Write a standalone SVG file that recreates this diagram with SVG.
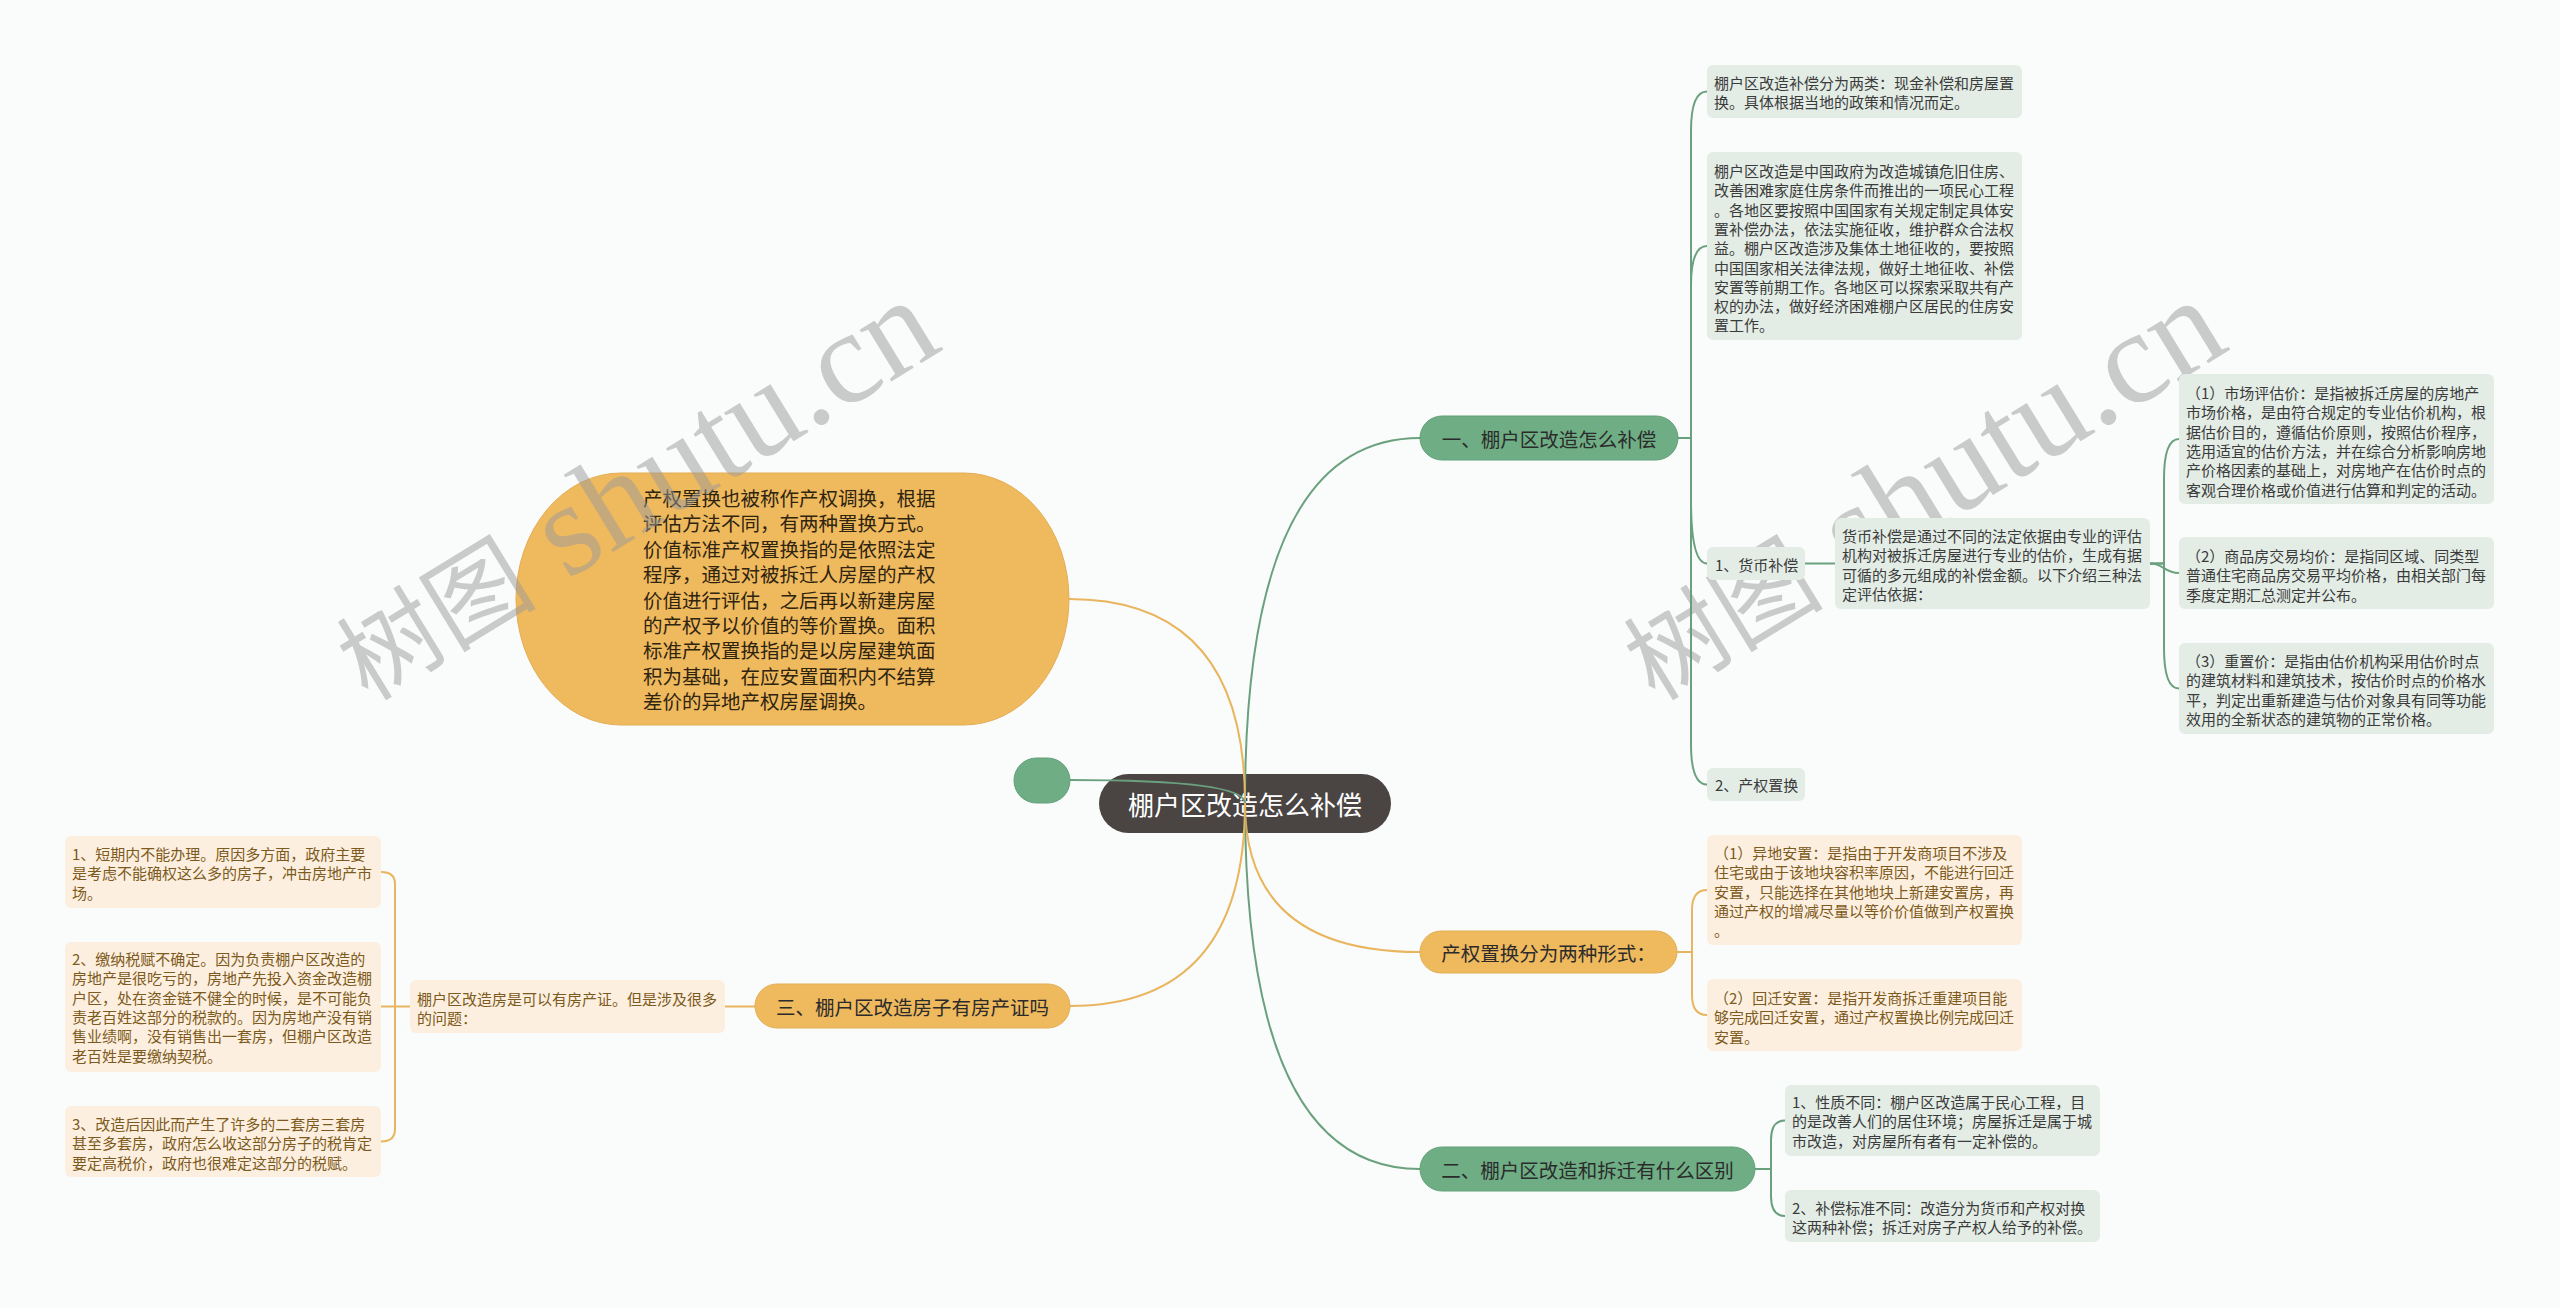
<svg xmlns="http://www.w3.org/2000/svg" width="2560" height="1308" viewBox="0 0 2560 1308">
<style>
.t{font-family:"Noto Sans CJK SC","Noto Sans",sans-serif;font-size:15px;dominant-baseline:central}
.t tspan{dominant-baseline:central}
.tg{fill:#3b3b3b}
.ty{fill:#7c5a20}
.lg rect{fill:#e3ede6}
.ly rect{fill:#fcefdf}
.l1 text{font-family:"Noto Sans CJK SC","Noto Sans",sans-serif;font-size:19.5px;dominant-baseline:central;text-anchor:middle;fill:#2b2b2b}
.g1{fill:#6fae85;stroke:#62a079;stroke-width:1}
.y1{fill:#efb95e;stroke:#e4ad55;stroke-width:1}
.cg{fill:none;stroke:#6ba07e;stroke-width:2}
.cy{fill:none;stroke:#e9b55e;stroke-width:2}
.wm{fill:#9a9a9a;opacity:0.5}
</style>
<rect x="0" y="0" width="2560" height="1308" fill="#f9fcfb"/>

<g id="watermark-right">
<text class="wm" transform="translate(1655,702) rotate(-31.5)"><tspan font-family="'Noto Sans CJK SC',sans-serif" font-size="100">树图</tspan><tspan font-family="'Liberation Serif',serif" font-size="132"> shutu.cn</tspan></text>
</g>

<g id="node-root">
<rect x="1099" y="774" width="292" height="59" rx="29.5" fill="#4a4443"/>
<text x="1245" y="803.5" font-family="'Noto Sans CJK SC',sans-serif" font-size="26" fill="#ffffff" text-anchor="middle" dominant-baseline="central">棚户区改造怎么补偿</text>
</g>

<g id="connectors">
<path class="cg" d="M1245,803 Q1245,438 1420,438"/>
<path class="cy" d="M1245,803 Q1245,599 1069,599"/>
<path class="cg" d="M1245,803 Q1245,780 1070,780"/>
<path class="cy" d="M1245,803 Q1245,952 1420,952"/>
<path class="cg" d="M1245,803 Q1245,1169 1420,1169"/>
<path class="cy" d="M1245,803 Q1245,1006 1070,1006"/>
<path class="cg" d="M1678,438 H1691 V131 Q1691,91.5 1707,91.5"/>
<path class="cg" d="M1678,438 H1691 V286 Q1691,246 1707,246"/>
<path class="cg" d="M1678,438 H1691 V500 Q1691,563.5 1707,563.5"/>
<path class="cg" d="M1678,438 H1691 V744 Q1691,784.5 1707,784.5"/>
<path class="cg" d="M1805,563.5 H1835"/>
<path class="cg" d="M2150,563.5 H2164 V479 Q2164,439 2179,439"/>
<path class="cg" d="M2150,563.5 C2164,563.5 2164,573 2179,573"/>
<path class="cg" d="M2150,563.5 H2164 V648 Q2164,688.5 2179,688.5"/>
<path class="cy" d="M1677,952 H1692 V910 Q1692,890 1707,890"/>
<path class="cy" d="M1677,952 H1692 V995 Q1692,1015 1707,1015"/>
<path class="cg" d="M1755,1169 H1771 V1140 Q1771,1120.5 1785,1120.5"/>
<path class="cg" d="M1755,1169 H1771 V1196 Q1771,1216 1785,1216"/>
<path class="cy" d="M725,1006.5 H755"/>
<path class="cy" d="M410,1006.5 H381"/>
<path class="cy" d="M395,1006.5 V884 Q395,872 381,872"/>
<path class="cy" d="M395,1006.5 V1129 Q395,1141.5 381,1141.5"/>
</g>

<g id="node-dot">
<rect x="1014" y="758" width="56" height="45" rx="22.5" class="g1"/>
</g>

<g id="node-b1" class="l1">
<rect x="1420" y="416" width="258" height="44" rx="22" class="g1"/>
<text x="1549" y="438">一、棚户区改造怎么补偿</text>
</g>

<g id="node-b1-a" class="lg">
<rect x="1707" y="65" width="315" height="53" rx="6"/>
<text class="t tg"><tspan x="1714" y="82">棚户区改造补偿分为两类：现金补偿和房屋置</tspan><tspan x="1714" y="101.3">换。具体根据当地的政策和情况而定。</tspan></text>
</g>

<g id="node-b1-b" class="lg">
<rect x="1707" y="152" width="315" height="188" rx="6"/>
<text class="t tg"><tspan x="1714" y="170">棚户区改造是中国政府为改造城镇危旧住房、</tspan><tspan x="1714" y="189.3">改善困难家庭住房条件而推出的一项民心工程</tspan><tspan x="1714" y="208.6">。各地区要按照中国国家有关规定制定具体安</tspan><tspan x="1714" y="227.9">置补偿办法，依法实施征收，维护群众合法权</tspan><tspan x="1714" y="247.2">益。棚户区改造涉及集体土地征收的，要按照</tspan><tspan x="1714" y="266.5">中国国家相关法律法规，做好土地征收、补偿</tspan><tspan x="1714" y="285.8">安置等前期工作。各地区可以探索采取共有产</tspan><tspan x="1714" y="305.1">权的办法，做好经济困难棚户区居民的住房安</tspan><tspan x="1714" y="324.4">置工作。</tspan></text>
</g>

<g id="node-b1-money" class="lg">
<rect x="1707" y="547" width="98" height="33" rx="6"/>
<text class="t tg" x="1715" y="564">1、货币补偿</text>
</g>

<g id="node-b1-money-desc" class="lg">
<rect x="1835" y="518" width="315" height="91" rx="6"/>
<text class="t tg"><tspan x="1842" y="535">货币补偿是通过不同的法定依据由专业的评估</tspan><tspan x="1842" y="554.3">机构对被拆迁房屋进行专业的估价，生成有据</tspan><tspan x="1842" y="573.6">可循的多元组成的补偿金额。以下介绍三种法</tspan><tspan x="1842" y="592.9">定评估依据：</tspan></text>
</g>

<g id="node-price-1" class="lg">
<rect x="2179" y="374" width="315" height="130" rx="6"/>
<text class="t tg"><tspan x="2186" y="392">（1）市场评估价：是指被拆迁房屋的房地产</tspan><tspan x="2186" y="411.3">市场价格，是由符合规定的专业估价机构，根</tspan><tspan x="2186" y="430.6">据估价目的，遵循估价原则，按照估价程序，</tspan><tspan x="2186" y="449.9">选用适宜的估价方法，并在综合分析影响房地</tspan><tspan x="2186" y="469.2">产价格因素的基础上，对房地产在估价时点的</tspan><tspan x="2186" y="488.5">客观合理价格或价值进行估算和判定的活动。</tspan></text>
</g>

<g id="node-price-2" class="lg">
<rect x="2179" y="537" width="315" height="72" rx="6"/>
<text class="t tg"><tspan x="2186" y="555">（2）商品房交易均价：是指同区域、同类型</tspan><tspan x="2186" y="574.3">普通住宅商品房交易平均价格，由相关部门每</tspan><tspan x="2186" y="593.6">季度定期汇总测定并公布。</tspan></text>
</g>

<g id="node-price-3" class="lg">
<rect x="2179" y="643" width="315" height="91" rx="6"/>
<text class="t tg"><tspan x="2186" y="660">（3）重置价：是指由估价机构采用估价时点</tspan><tspan x="2186" y="679.3">的建筑材料和建筑技术，按估价时点的价格水</tspan><tspan x="2186" y="698.6">平，判定出重新建造与估价对象具有同等功能</tspan><tspan x="2186" y="717.9">效用的全新状态的建筑物的正常价格。</tspan></text>
</g>

<g id="node-b1-swap" class="lg">
<rect x="1707" y="768" width="98" height="33" rx="6"/>
<text class="t tg" x="1715" y="784.5">2、产权置换</text>
</g>

<g id="node-b-swap-desc">
<rect x="516" y="473" width="553" height="252" rx="105" ry="126" class="y1"/>
<text font-family="'Noto Sans CJK SC',sans-serif" font-size="19.5" fill="#2e2410" dominant-baseline="central"><tspan x="643" y="497" dominant-baseline="central">产权置换也被称作产权调换，根据</tspan><tspan x="643" y="522.4" dominant-baseline="central">评估方法不同，有两种置换方式。</tspan><tspan x="643" y="547.8" dominant-baseline="central">价值标准产权置换指的是依照法定</tspan><tspan x="643" y="573.2" dominant-baseline="central">程序，通过对被拆迁人房屋的产权</tspan><tspan x="643" y="598.6" dominant-baseline="central">价值进行评估，之后再以新建房屋</tspan><tspan x="643" y="624" dominant-baseline="central">的产权予以价值的等价置换。面积</tspan><tspan x="643" y="649.4" dominant-baseline="central">标准产权置换指的是以房屋建筑面</tspan><tspan x="643" y="674.8" dominant-baseline="central">积为基础，在应安置面积内不结算</tspan><tspan x="643" y="700.2" dominant-baseline="central">差价的异地产权房屋调换。</tspan></text>
</g>

<g id="watermark-left">
<text class="wm" transform="translate(368,702) rotate(-31.5)"><tspan font-family="'Noto Sans CJK SC',sans-serif" font-size="100">树图</tspan><tspan font-family="'Liberation Serif',serif" font-size="132"> shutu.cn</tspan></text>
</g>

<g id="node-b2" class="l1">
<rect x="1420" y="931" width="257" height="42" rx="21" class="y1"/>
<text x="1548.5" y="952">产权置换分为两种形式：</text>
</g>

<g id="node-b2-a" class="ly">
<rect x="1707" y="835" width="315" height="110" rx="6"/>
<text class="t ty"><tspan x="1714" y="852">（1）异地安置：是指由于开发商项目不涉及</tspan><tspan x="1714" y="871.3">住宅或由于该地块容积率原因，不能进行回迁</tspan><tspan x="1714" y="890.6">安置，只能选择在其他地块上新建安置房，再</tspan><tspan x="1714" y="909.9">通过产权的增减尽量以等价价值做到产权置换</tspan><tspan x="1714" y="929.2">。</tspan></text>
</g>

<g id="node-b2-b" class="ly">
<rect x="1707" y="979" width="315" height="72" rx="6"/>
<text class="t ty"><tspan x="1714" y="997">（2）回迁安置：是指开发商拆迁重建项目能</tspan><tspan x="1714" y="1016.3">够完成回迁安置，通过产权置换比例完成回迁</tspan><tspan x="1714" y="1035.6">安置。</tspan></text>
</g>

<g id="node-b3" class="l1">
<rect x="1420" y="1147" width="335" height="44" rx="22" class="g1"/>
<text x="1587.5" y="1169">二、棚户区改造和拆迁有什么区别</text>
</g>

<g id="node-b3-a" class="lg">
<rect x="1785" y="1085" width="315" height="71" rx="6"/>
<text class="t tg"><tspan x="1792" y="1101">1、性质不同：棚户区改造属于民心工程，目</tspan><tspan x="1792" y="1120.3">的是改善人们的居住环境；房屋拆迁是属于城</tspan><tspan x="1792" y="1139.6">市改造，对房屋所有者有一定补偿的。</tspan></text>
</g>

<g id="node-b3-b" class="lg">
<rect x="1785" y="1190" width="315" height="52" rx="6"/>
<text class="t tg"><tspan x="1792" y="1207">2、补偿标准不同：改造分为货币和产权对换</tspan><tspan x="1792" y="1226.3">这两种补偿；拆迁对房子产权人给予的补偿。</tspan></text>
</g>

<g id="node-b4" class="l1">
<rect x="755" y="984" width="315" height="44" rx="22" class="y1"/>
<text x="912.5" y="1006.5">三、棚户区改造房子有房产证吗</text>
</g>

<g id="node-b4-mid" class="ly">
<rect x="410" y="980" width="315" height="53" rx="6"/>
<text class="t ty"><tspan x="417" y="998">棚户区改造房是可以有房产证。但是涉及很多</tspan><tspan x="417" y="1017.3">的问题：</tspan></text>
</g>

<g id="node-b4-1" class="ly">
<rect x="65" y="836" width="316" height="72" rx="6"/>
<text class="t ty"><tspan x="72" y="853">1、短期内不能办理。原因多方面，政府主要</tspan><tspan x="72" y="872.3">是考虑不能确权这么多的房子，冲击房地产市</tspan><tspan x="72" y="891.6">场。</tspan></text>
</g>

<g id="node-b4-2" class="ly">
<rect x="65" y="942" width="316" height="130" rx="6"/>
<text class="t ty"><tspan x="72" y="958">2、缴纳税赋不确定。因为负责棚户区改造的</tspan><tspan x="72" y="977.3">房地产是很吃亏的，房地产先投入资金改造棚</tspan><tspan x="72" y="996.6">户区，处在资金链不健全的时候，是不可能负</tspan><tspan x="72" y="1015.9">责老百姓这部分的税款的。因为房地产没有销</tspan><tspan x="72" y="1035.2">售业绩啊，没有销售出一套房，但棚户区改造</tspan><tspan x="72" y="1054.5">老百姓是要缴纳契税。</tspan></text>
</g>

<g id="node-b4-3" class="ly">
<rect x="65" y="1106" width="316" height="71" rx="6"/>
<text class="t ty"><tspan x="72" y="1123">3、改造后因此而产生了许多的二套房三套房</tspan><tspan x="72" y="1142.3">甚至多套房，政府怎么收这部分房子的税肯定</tspan><tspan x="72" y="1161.6">要定高税价，政府也很难定这部分的税赋。</tspan></text>
</g>
</svg>
